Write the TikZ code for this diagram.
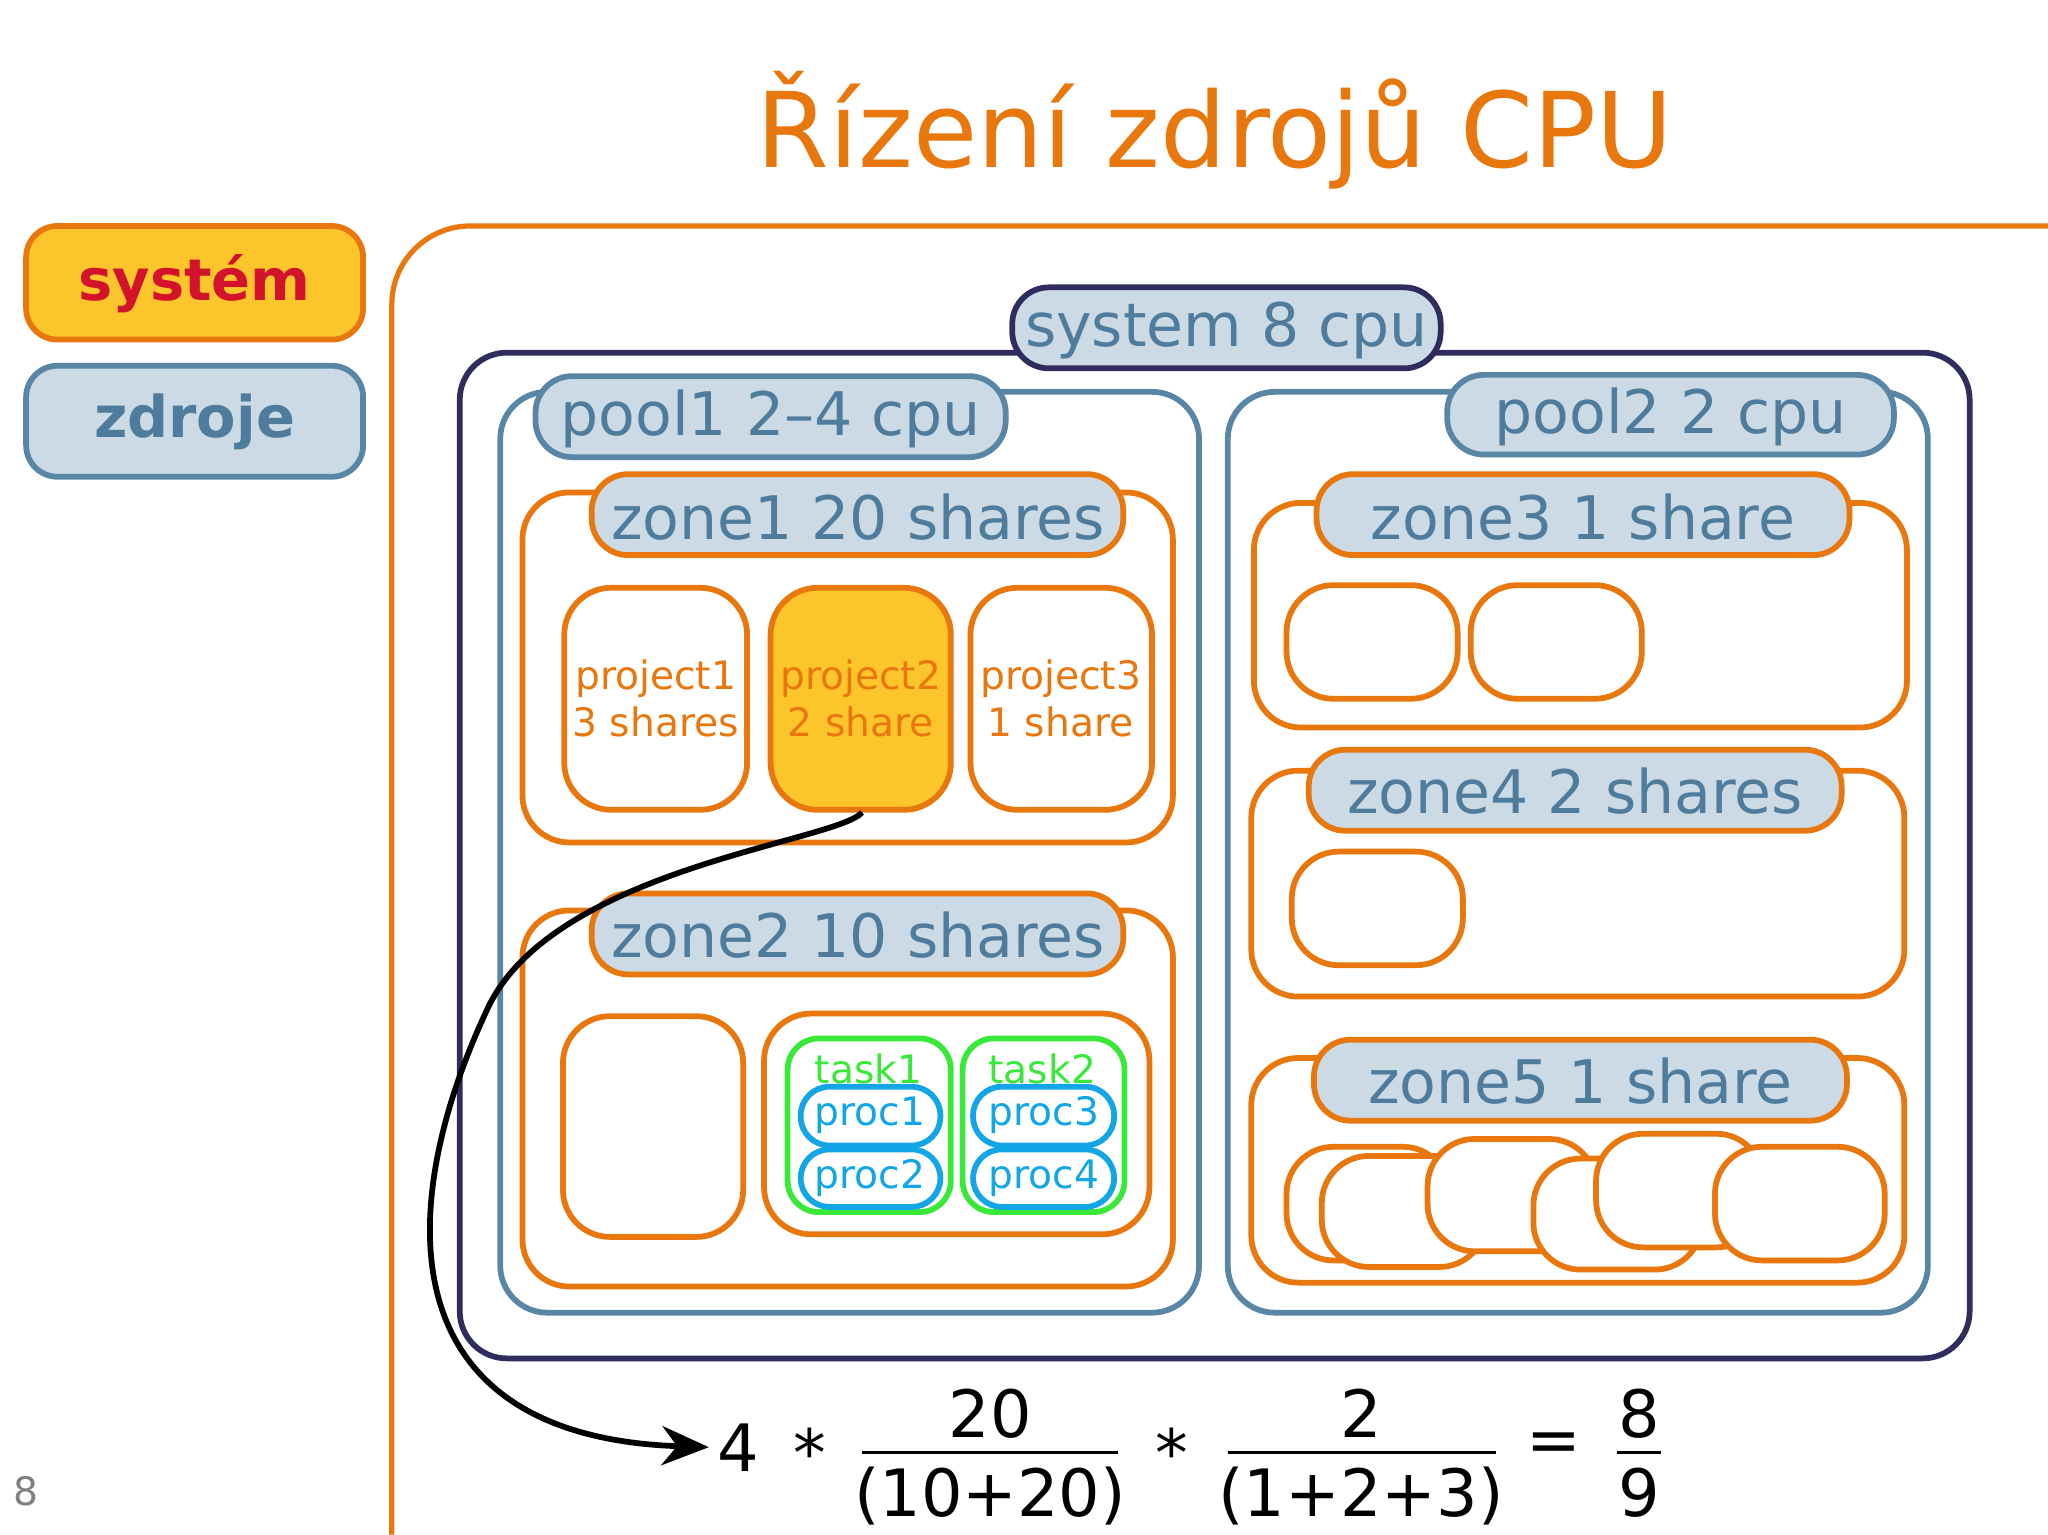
\documentclass[tikz,border=0pt]{standalone}
\usepackage{fontspec}
\setmainfont{DejaVu Sans}
\usetikzlibrary{arrows.meta}
\definecolor{org}{HTML}{E8770E}
\definecolor{bfill}{HTML}{CBDAE4}
\definecolor{bstroke}{HTML}{5A86A5}
\definecolor{btext}{HTML}{4F7C9C}
\definecolor{navy}{HTML}{2E2D5E}
\definecolor{yel}{HTML}{FDC52C}
\definecolor{rtext}{HTML}{D3122B}
\definecolor{grn}{HTML}{3AE83A}
\definecolor{cyn}{HTML}{12A6E6}
\tikzset{
 box/.style={draw, line width=2.2pt, rounded corners=12pt},
 lbl/.style={box, fill=bfill, text=btext, font=\fontsize{23}{23}\selectfont, inner sep=0pt, rounded corners=14pt},
 obox/.style={box, draw=org, fill=white},
 proc/.style={draw=cyn, line width=2.2pt, fill=white, rounded corners=11pt, text=cyn, font=\fontsize{15}{15}\selectfont, inner sep=0pt},
 task/.style={draw=grn, line width=2.2pt, rounded corners=12pt},
 ptxt/.style={text=org, font=\fontsize{15}{18}\selectfont, align=center},
 eq/.style={font=\fontsize{25}{25}\selectfont, inner sep=0pt},
}
\begin{document}
\begin{tikzpicture}[x=0.5pt,y=-0.5pt]
\useasboundingbox (0,0) rectangle (1568,1175);
\node[text=org, font=\fontsize{40}{40}\selectfont] (title) at (930,100) {Řízení zdrojů CPU};
\draw[org, line width=2pt, rounded corners=30pt] (300,1175) -- (300,173) -- (1568,173);
\draw[box, draw=org, fill=yel] (20,173) rectangle (278,260);
\node[text=rtext, font=\bfseries\fontsize{22}{22}\selectfont] (sys) at (149,217) {systém};
\draw[box, draw=bstroke, fill=bfill] (20,280) rectangle (278,365);
\node[text=btext, font=\bfseries\fontsize{22}{22}\selectfont] (zdr) at (149,323) {zdroje};
% system
\draw[box, draw=navy, rounded corners=18pt] (352,270) rectangle (1508,1040);
\draw[lbl, draw=navy] (775,220) rectangle (1103,282);
\node[text=btext, font=\fontsize{23}{23}\selectfont] (syslbl) at (939,253) {system 8 cpu};
% pools
\draw[box, draw=bstroke, rounded corners=18pt] (383,300) rectangle (918,1005);
\draw[lbl, draw=bstroke] (410,288) rectangle (770,350);
\node[text=btext, font=\fontsize{23}{23}\selectfont] (p1) at (590,321) {pool1 2–4 cpu};
\draw[box, draw=bstroke, rounded corners=18pt] (940,300) rectangle (1476,1005);
\draw[lbl, draw=bstroke] (1108,287) rectangle (1450,348);
\node[text=btext, font=\fontsize{23}{23}\selectfont] (p2) at (1279,319) {pool2 2 cpu};
% zone1
\draw[obox, rounded corners=18pt] (400,377) rectangle (898,645);
\draw[lbl, draw=org] (453,363) rectangle (860,425);
\node[text=btext, font=\fontsize{23}{23}\selectfont] (z1) at (657,396) {zone1 20 shares};
\draw[obox, rounded corners=18pt] (432,450) rectangle (572,620);
\node[ptxt] (pr1) at (502,535) {project1\\3 shares};
\draw[obox, fill=yel, rounded corners=18pt] (590,450) rectangle (728,620);
\node[ptxt] (pr2) at (659,535) {project2\\2 share};
\draw[obox, rounded corners=18pt] (743,450) rectangle (882,620);
\node[ptxt] (pr3) at (812,535) {project3\\1 share};
% zone2
\draw[obox, rounded corners=18pt] (400,697) rectangle (898,985);
\draw[lbl, draw=org] (453,684) rectangle (860,746);
\node[text=btext, font=\fontsize{23}{23}\selectfont] (z2) at (657,716) {zone2 10 shares};
\draw[obox, rounded corners=18pt] (431,778) rectangle (569,947);
\draw[obox, rounded corners=18pt] (585,776) rectangle (880,945);
\draw[task] (603,795) rectangle (728,928);
\draw[task] (737,795) rectangle (861,928);
\node[text=grn, font=\fontsize{15}{15}\selectfont] (t1) at (665,818) {task1};
\node[text=grn, font=\fontsize{15}{15}\selectfont] (t2) at (798,818) {task2};
\draw[proc] (613,832) rectangle (720,877); \node[text=cyn,font=\fontsize{15}{15}\selectfont] (pc1) at (666,854) {proc1};
\draw[proc] (613,880) rectangle (720,924); \node[text=cyn,font=\fontsize{15}{15}\selectfont] (pc2) at (666,902) {proc2};
\draw[proc] (745,832) rectangle (853,877); \node[text=cyn,font=\fontsize{15}{15}\selectfont] (pc3) at (799,854) {proc3};
\draw[proc] (745,880) rectangle (853,924); \node[text=cyn,font=\fontsize{15}{15}\selectfont] (pc4) at (799,902) {proc4};
% zone3
\draw[obox, rounded corners=18pt] (960,385) rectangle (1460,557);
\draw[lbl, draw=org] (1008,363) rectangle (1416,425);
\node[text=btext, font=\fontsize{23}{23}\selectfont] (z3) at (1212,396) {zone3 1 share};
\draw[obox, rounded corners=18pt] (985,448) rectangle (1116,535);
\draw[obox, rounded corners=18pt] (1126,448) rectangle (1257,535);
% zone4
\draw[obox, rounded corners=18pt] (958,590) rectangle (1458,763);
\draw[lbl, draw=org] (1002,574) rectangle (1410,636);
\node[text=btext, font=\fontsize{23}{23}\selectfont] (z4) at (1206,606) {zone4 2 shares};
\draw[obox, rounded corners=18pt] (989,652) rectangle (1120,739);
% zone5
\draw[obox, rounded corners=18pt] (958,810) rectangle (1458,982);
\draw[lbl, draw=org] (1006,796) rectangle (1414,858);
\node[text=btext, font=\fontsize{23}{23}\selectfont] (z5) at (1210,828) {zone5 1 share};
\draw[obox, rounded corners=18pt] (985,878) rectangle (1110,965);
\draw[obox, rounded corners=18pt] (1012,885) rectangle (1138,970);
\draw[obox, rounded corners=18pt] (1093,872) rectangle (1222,958);
\draw[obox, rounded corners=18pt] (1174,887) rectangle (1303,972);
\draw[obox, rounded corners=18pt] (1222,868) rectangle (1350,955);
\draw[obox, rounded corners=18pt] (1313,878) rectangle (1443,965);
% equation
\node[eq] (four) at (565,1108) {4};
\node[eq] (m1) at (620,1112) {*};
\node[eq] (n1) at (758,1082) {20};
\node[eq] (d1) at (758,1145) {(10+20)};
\draw[line width=1.3pt] (660,1112) -- (856,1112);
\node[eq] (m2) at (897,1112) {*};
\node[eq] (n2) at (1042,1082) {2};
\node[eq] (d2) at (1042,1145) {(1+2+3)};
\draw[line width=1.3pt] (940,1112) -- (1145,1112);
\node[eq] (eqs) at (1190,1108) {=};
\node[eq] (n3) at (1255,1082) {8};
\node[eq] (d3) at (1255,1143) {9};
\draw[line width=1.3pt] (1238,1112) -- (1272,1112);
\coordinate (start) at (660,622);
\draw[line width=2.2pt, -{Stealth[length=18pt,width=15pt]}] (start) .. controls (640,645) and (420,665) .. (372,775) .. controls (300,930) and (300,1100) .. ([xshift=-3pt]four.west);
\node[text=gray, font=\fontsize{15}{15}\selectfont] (pg) at (20,1142) {8};
\end{tikzpicture}
\end{document}
